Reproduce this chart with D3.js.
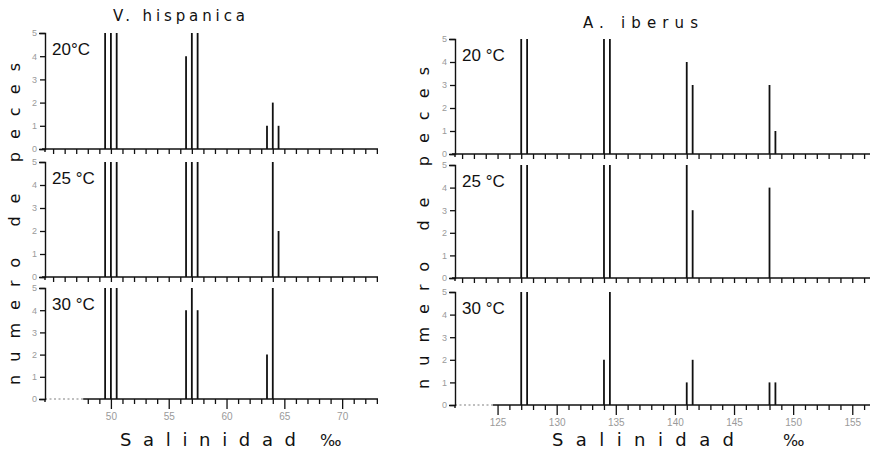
<!DOCTYPE html>
<html>
<head>
<meta charset="utf-8">
<script src="https://cdn.jsdelivr.net/npm/d3@7"></script>
<style>
  body { margin: 0; background: #fff; }
  svg { display: block; }
</style>
</head>
<body>
<svg id="chart" width="880" height="454"></svg>
<script>
// Number of fish per salinity class, three acclimation temperatures
const temperatures = ["20", "25", "30"];

// Valencia hispanica
const salinityHispanica = [49.5, 50, 50.5, 56.5, 57, 57.5, 63.5, 64, 64.5];
const hispanica20 = [5, 5, 5, 4, 5, 5, 1, 2, 1];
const hispanica25 = [5, 5, 5, 5, 5, 5, 0, 5, 2];
const hispanica30 = [5, 5, 5, 4, 5, 4, 2, 5, 0];
const hispanicaTickLabels = [50, 55, 60, 65, 70];

// Aphanius iberus
const salinityIberus = [127, 127.5, 134, 134.5, 141, 141.5, 148, 148.5];
const iberus20 = [5, 5, 5, 5, 4, 3, 3, 1];
const iberus25 = [5, 5, 5, 5, 5, 3, 4, 0];
const iberus30 = [5, 5, 2, 5, 1, 2, 1, 1];
const iberusTickLabels = [125, 130, 135, 140, 145, 150, 155];

const countTicks = [0, 1, 2, 3, 4, 5];

const svg = d3.select("#chart");
const ink = "#111";
const faint = "#9a9a9a";

function drawColumn(cfg) {
  const x = d3.scaleLinear().domain(cfg.xDomain).range(cfg.xRange);
  const g = svg.append("g");

  cfg.series.forEach((values, i) => {
    const [top, bottom] = cfg.panels[i];
    const y = d3.scaleLinear().domain([0, 5]).range([bottom, top]);
    const isLast = i === cfg.series.length - 1;
    const p = g.append("g");

    // baseline of the salinity axis
    if (isLast) {
      p.append("line")
        .attr("x1", cfg.xRange[0]).attr("x2", x(cfg.solidFrom))
        .attr("y1", y(0)).attr("y2", y(0))
        .attr("stroke", "#aaa").attr("stroke-width", 1.4)
        .attr("stroke-dasharray", "2,2.5");
      p.append("line")
        .attr("x1", x(cfg.solidFrom)).attr("x2", cfg.xRange[1])
        .attr("y1", y(0)).attr("y2", y(0))
        .attr("stroke", ink).attr("stroke-width", 1.4);
    } else {
      p.append("line")
        .attr("x1", cfg.xRange[0] - 3).attr("x2", cfg.xRange[1])
        .attr("y1", y(0)).attr("y2", y(0))
        .attr("stroke", ink).attr("stroke-width", 1.4);
    }

    // one tick per salinity unit
    const start = isLast ? Math.ceil(cfg.solidFrom) : Math.ceil(cfg.xDomain[0]);
    const units = d3.range(start, Math.floor(cfg.xDomain[1]) + 1);
    const xAxis = d3.axisBottom(x).tickValues(units).tickSize(5).tickSizeOuter(0).tickFormat("");
    const ax = p.append("g").attr("transform", `translate(0,${y(0)})`).call(xAxis);
    ax.select(".domain").remove();
    ax.selectAll(".tick line").attr("stroke", ink).attr("stroke-width", 1.3)
      .attr("y2", d => (isLast && d % 5 === 0) ? 10 : 5);

    if (isLast) {
      ax.selectAll(".tick")
        .filter(d => cfg.tickLabels.includes(d))
        .append("text")
        .attr("y", 21)
        .attr("fill", faint)
        .attr("font-family", "Liberation Sans, Arial, sans-serif")
        .attr("font-size", 10)
        .attr("text-anchor", "middle")
        .text(d => d);
    }

    // count axis
    const yAxis = d3.axisLeft(y).tickValues(countTicks).tickFormat(d3.format("d"))
      .tickSize(5).tickSizeOuter(6).tickPadding(3);
    const ay = p.append("g").attr("transform", `translate(${cfg.xRange[0]},0)`).call(yAxis);
    ay.select(".domain").attr("stroke", ink).attr("stroke-width", 1.4);
    ay.selectAll(".tick line").attr("stroke", ink).attr("stroke-width", 1.3);
    ay.selectAll(".tick text")
      .attr("fill", faint)
      .attr("font-family", "Liberation Sans, Arial, sans-serif")
      .attr("font-size", 9);
    p.append("line")
      .attr("x1", cfg.xRange[0]).attr("x2", cfg.xRange[0])
      .attr("y1", y(0)).attr("y2", y(0) + 3)
      .attr("stroke", ink).attr("stroke-width", 1.4);

    // fish counts
    p.selectAll("line.bar")
      .data(cfg.salinity.map((s, k) => ({ s, v: values[k] })).filter(d => d.v > 0))
      .join("line")
      .attr("class", "bar")
      .attr("x1", d => x(d.s)).attr("x2", d => x(d.s))
      .attr("y1", y(0)).attr("y2", d => y(d.v))
      .attr("stroke", ink).attr("stroke-width", 1.8);

    // temperature label
    p.append("text")
      .attr("x", cfg.xRange[0] + 7)
      .attr("y", top + 22)
      .attr("fill", ink)
      .attr("font-family", "Liberation Sans, Arial, sans-serif")
      .attr("font-size", 17)
      .text(cfg.tempLabels[i]);
  });

  // species title
  g.append("text")
    .attr("x", cfg.titleX).attr("y", cfg.titleY)
    .attr("textLength", cfg.titleLen).attr("lengthAdjust", "spacing")
    .attr("fill", ink)
    .attr("font-family", "DejaVu Sans, sans-serif")
    .attr("font-size", 15)
    .text(cfg.title);

  // count axis title
  g.append("text")
    .attr("transform", `translate(${cfg.yTitleX},${cfg.yTitleMid}) rotate(-90)`)
    .attr("text-anchor", "middle")
    .attr("textLength", cfg.yTitleLen).attr("lengthAdjust", "spacing")
    .attr("fill", ink)
    .attr("font-family", "DejaVu Sans, sans-serif")
    .attr("font-size", 16)
    .text("numero  de  peces");

  // salinity axis title
  g.append("text")
    .attr("x", cfg.xTitleX).attr("y", cfg.xTitleY)
    .attr("textLength", cfg.xTitleLen).attr("lengthAdjust", "spacing")
    .attr("fill", ink)
    .attr("font-family", "DejaVu Sans, sans-serif")
    .attr("font-size", 18)
    .text("Salinidad");
  g.append("text")
    .attr("x", cfg.permilX).attr("y", cfg.xTitleY)
    .attr("fill", ink)
    .attr("font-family", "DejaVu Sans, sans-serif")
    .attr("font-size", 16)
    .text("‰");
}

drawColumn({
  title: "V.  hispanica", titleX: 113, titleY: 21, titleLen: 132,
  xDomain: [44.3, 73.1], xRange: [45, 378], solidFrom: 47.6,
  panels: [[33, 149], [162, 277], [288, 399]],
  series: [hispanica20, hispanica25, hispanica30],
  salinity: salinityHispanica,
  tempLabels: temperatures.map((t, i) => i === 0 ? `${t}°C` : `${t} °C`),
  tickLabels: hispanicaTickLabels,
  yTitleX: 20, yTitleMid: 224, yTitleLen: 322,
  xTitleX: 120, xTitleY: 446, xTitleLen: 176, permilX: 320
});

drawColumn({
  title: "A.  iberus", titleX: 583, titleY: 28, titleLen: 115,
  xDomain: [121.4, 156.5], xRange: [455, 870], solidFrom: 124.6,
  panels: [[39, 154], [165, 278], [292, 405]],
  series: [iberus20, iberus25, iberus30],
  salinity: salinityIberus,
  tempLabels: temperatures.map(t => `${t} °C`),
  tickLabels: iberusTickLabels,
  yTitleX: 429, yTitleMid: 228, yTitleLen: 322,
  xTitleX: 552, xTitleY: 446, xTitleLen: 182, permilX: 783
});
</script>
</body>
</html>
